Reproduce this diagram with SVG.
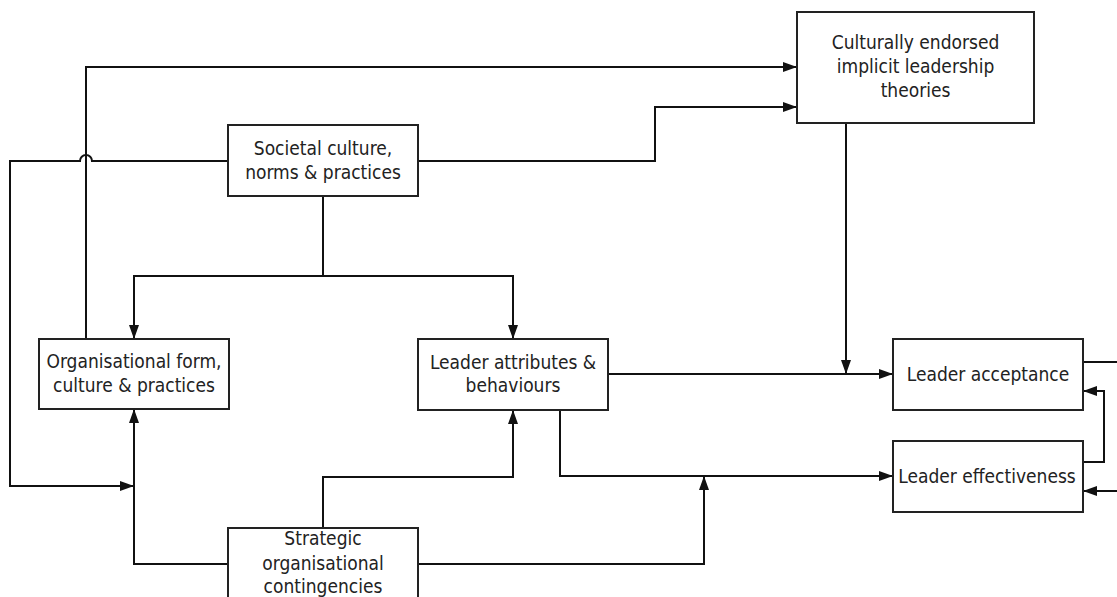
<svg xmlns="http://www.w3.org/2000/svg" width="1117" height="597" viewBox="0 0 1117 597">
  <defs>
    <marker id="arrow" viewBox="0 0 14 10" refX="14" refY="5" markerWidth="14" markerHeight="10" markerUnits="userSpaceOnUse" orient="auto">
      <path d="M0,0 L14,5 L0,10 Z" fill="#111"/>
    </marker>
    <style>
      .box { fill: #fff; stroke: #222; stroke-width: 2; }
      .lbl { font-family: "DejaVu Sans Condensed", "DejaVu Sans", sans-serif; font-size: 19px; fill: #222; text-anchor: middle; }
      .wire { fill: none; stroke: #111; stroke-width: 2; }
      .arr { marker-end: url(#arrow); }
    </style>
  </defs>
  <rect width="1117" height="597" fill="#fff"/>

  <g id="connectors">
    <!-- organisational form to CLTs -->
    <path class="wire arr" d="M86,339 V67 H797"/>
    <!-- societal culture, left branch with line hop over x=86 -->
    <path class="wire arr" d="M228,161 H92 A6,6 0 0 0 80,161 H10 V486 H134"/>
    <!-- societal culture to CLTs -->
    <path class="wire arr" d="M418,161 H655 V107 H797"/>
    <!-- societal culture down to organisation and leader attributes -->
    <path class="wire" d="M323,196 V276"/>
    <path class="wire arr" d="M323,276 H134 V339"/>
    <path class="wire arr" d="M323,276 H513 V339"/>
    <!-- CLTs moderating acceptance -->
    <path class="wire arr" d="M846,123 V374"/>
    <!-- leader attributes to acceptance -->
    <path class="wire arr" d="M608,374 H893"/>
    <!-- leader attributes to effectiveness -->
    <path class="wire arr" d="M560,410 V476 H893"/>
    <!-- strategic contingencies -->
    <path class="wire arr" d="M323,528 V477 H513 V410"/>
    <path class="wire arr" d="M228,564 H134 V409"/>
    <path class="wire arr" d="M418,564 H704 V476"/>
    <!-- acceptance / effectiveness feedback -->
    <path class="wire" d="M1083,362 H1117"/>
    <path class="wire arr" d="M1083,462 H1104 V391 H1083"/>
    <path class="wire arr" d="M1117,491 H1083"/>
  </g>

  <g id="cilt">
    <rect class="box" x="797" y="12" width="237" height="111"/>
    <text class="lbl" x="915.5" y="49">Culturally endorsed</text>
    <text class="lbl" x="915.5" y="73">implicit leadership</text>
    <text class="lbl" x="915.5" y="97">theories</text>
  </g>

  <g id="societal">
    <rect class="box" x="228" y="125" width="190" height="71"/>
    <text class="lbl" x="323" y="155">Societal culture,</text>
    <text class="lbl" x="323" y="179">norms &amp; practices</text>
  </g>

  <g id="organisational">
    <rect class="box" x="39" y="339" width="190" height="70"/>
    <text class="lbl" x="134" y="368">Organisational form,</text>
    <text class="lbl" x="134" y="392">culture &amp; practices</text>
  </g>

  <g id="attributes">
    <rect class="box" x="418" y="339" width="190" height="71"/>
    <text class="lbl" x="513" y="369">Leader attributes &amp;</text>
    <text class="lbl" x="513" y="392">behaviours</text>
  </g>

  <g id="acceptance">
    <rect class="box" x="893" y="339" width="190" height="71"/>
    <text class="lbl" x="988" y="381">Leader acceptance</text>
  </g>

  <g id="effectiveness">
    <rect class="box" x="893" y="441" width="190" height="71"/>
    <text class="lbl" x="987" y="483">Leader effectiveness</text>
  </g>

  <g id="strategic">
    <rect class="box" x="228" y="528" width="190" height="80"/>
    <text class="lbl" x="323" y="545">Strategic</text>
    <text class="lbl" x="323" y="570">organisational</text>
    <text class="lbl" x="323" y="593">contingencies</text>
  </g>
</svg>
